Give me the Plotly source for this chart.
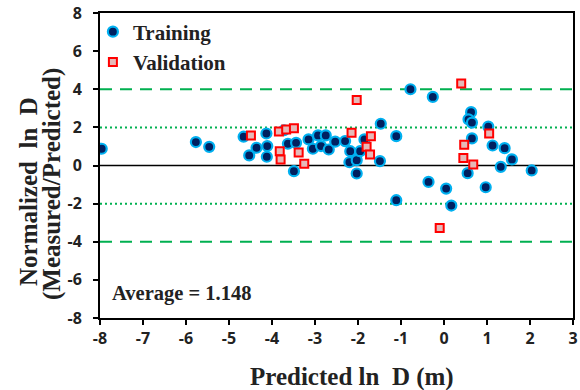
import plotly.graph_objects as go

# Training set: predicted ln D (m) and normalized ln D
train_x = [-7.96, -5.77, -5.46, -4.66, -4.53, -4.36, -4.13, -4.11, -4.12, -3.72,
           -3.63, -3.44, -3.49, -3.15, -2.93, -2.75, -3.05, -2.86, -2.68, -2.53,
           -2.30, -2.18, -2.20, -2.03, -2.03, -1.95, -1.85, -1.49, -1.47, -1.11,
           -1.11, -0.78, -0.26, 0.63, 0.57, 0.65, 0.65, 0.55, -0.36, 0.05,
           0.17, 0.97, 1.03, 1.13, 1.41, 1.58, 1.32, 2.04]
train_y = [0.88, 1.23, 0.98, 1.51, 0.53, 0.93, 1.68, 1.02, 0.46, 1.85,
           1.14, 1.19, -0.30, 1.37, 1.58, 1.58, 0.88, 1.02, 0.84, 1.25,
           1.28, 0.75, 0.17, 0.28, -0.42, 0.75, 1.37, 0.23, 2.19, 1.54,
           -1.82, 4.00, 3.60, 2.80, 2.42, 2.25, 1.42, -0.40, -0.86, -1.21,
           -2.10, -1.14, 2.04, 1.05, 0.91, 0.32, -0.07, -0.26]

# Validation set
val_x = [-4.49, -3.84, -3.67, -3.49, -3.82, -3.80, -3.38, -3.25, -2.15, -2.03,
         -1.80, -1.70, -1.72, 0.40, 0.47, 0.45, 0.68, 1.05, -0.10]
val_y = [1.58, 1.79, 1.89, 1.95, 0.75, 0.32, 0.68, 0.09, 1.72, 3.44,
         0.98, 1.54, 0.58, 4.30, 1.09, 0.40, 0.05, 1.68, -3.28]

x_ticks = list(range(-8, 4))
y_ticks = list(range(-8, 9, 2))
band_outer = [4, -4]
band_inner = [2, -2]
average_text = "Average = 1.148"

serif = "Liberation Serif, Times New Roman, serif"
sans = "Open Sans, Arial, sans-serif"
green = "#00B050"
ink = "#222"

fig = go.Figure()

fig.add_trace(go.Scatter(
    x=train_x, y=train_y, mode="markers", name="<b>Training</b>",
    marker=dict(symbol="circle", size=10, color="#002060",
                line=dict(color="#00B0F0", width=2.2)),
))
fig.add_trace(go.Scatter(
    x=val_x, y=val_y, mode="markers", name="<b>Validation</b>",
    marker=dict(symbol="square", size=8, color="#E6B9B8",
                line=dict(color="#FF0000", width=2)),
))

# reference lines
for yv in band_outer:
    fig.add_shape(type="line", xref="paper", x0=0, x1=1, y0=yv, y1=yv,
                  line=dict(color=green, width=2.2, dash="12px,8px"), layer="below")
for yv in band_inner:
    fig.add_shape(type="line", xref="paper", x0=0, x1=1, y0=yv, y1=yv,
                  line=dict(color=green, width=2, dash="2px,3px"), layer="below")
fig.add_shape(type="line", xref="paper", x0=0, x1=1, y0=0, y1=0,
              line=dict(color="black", width=1.6), layer="below")

fig.add_annotation(text="<b>" + average_text + "</b>", xref="paper", yref="paper",
                   x=0.022, y=0.079, xanchor="left", yanchor="middle",
                   showarrow=False, font=dict(family=serif, size=20.5, color=ink))

# axis titles
fig.add_annotation(text="<b>Normalized  ln  D</b>", xref="paper", yref="paper",
                   x=-0.151, y=0.415, xanchor="center", yanchor="middle", textangle=-90,
                   showarrow=False, font=dict(family=serif, size=25, color=ink))
fig.add_annotation(text="<b>(Measured/Predicted)</b>", xref="paper", yref="paper",
                   x=-0.101, y=0.44, xanchor="center", yanchor="middle", textangle=-90,
                   showarrow=False, font=dict(family=serif, size=25, color=ink))
fig.add_annotation(text="<b>Predicted ln\u00a0\u00a0D (m)</b>", xref="paper", yref="paper",
                   x=0.532, y=-0.193, xanchor="center", yanchor="middle",
                   showarrow=False, font=dict(family=serif, size=25, color=ink))

axis_common = dict(showgrid=False, zeroline=False, showline=True, linecolor="black",
                   linewidth=2, mirror=True, ticks="outside", ticklen=5, tickwidth=2,
                   tickcolor="black", ticklabeloverflow="allow",
                   tickfont=dict(family=sans, size=16, color=ink, weight="bold"))

fig.update_xaxes(range=[-8, 3], tickvals=x_ticks,
                 ticktext=[str(v) for v in x_ticks], **axis_common)
fig.update_yaxes(range=[-8, 8], tickvals=y_ticks,
                 ticktext=[str(v) for v in y_ticks], ticklabelstandoff=8,
                 **axis_common)

fig.update_layout(
    width=580, height=390,
    margin=dict(l=100, r=2, t=13, b=72),
    plot_bgcolor="white", paper_bgcolor="white",
    showlegend=True,
    legend=dict(x=-0.015, y=1.005, xanchor="left", yanchor="top",
                bgcolor="rgba(0,0,0,0)", tracegroupgap=0, itemwidth=30,
                font=dict(family=serif, size=21, color=ink)),
)

fig.write_html("out.html")
